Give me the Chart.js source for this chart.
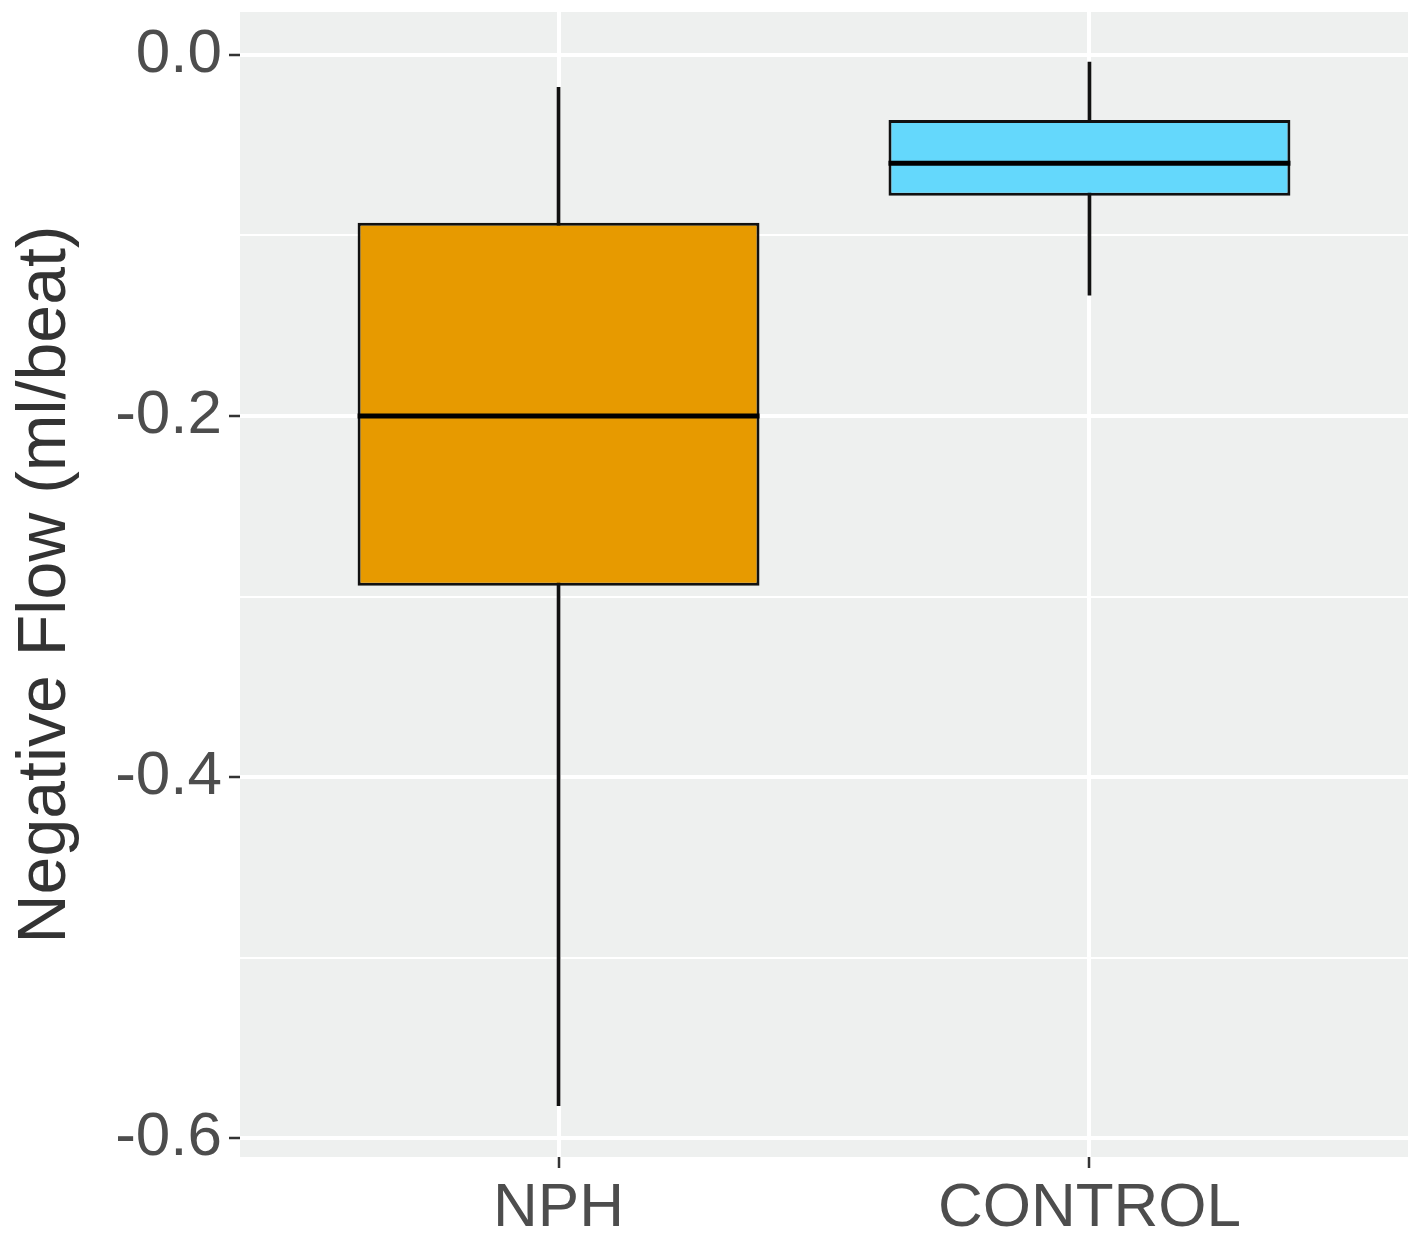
<!DOCTYPE html>
<html>
<head>
<meta charset="utf-8">
<script src="https://cdn.jsdelivr.net/npm/chart.js@4"></script>
<style>
  html, body { margin: 0; padding: 0; background: #fff; }
  #wrap { width: 1422px; height: 1239px; }
</style>
</head>
<body>
<div id="wrap"><canvas id="grafica" width="1422" height="1239"></canvas></div>
<script>
// Datos (boxplot)
const grupos = ['NPH', 'CONTROL'];
const bigoteMin = [-0.582, -0.133];
const cuartil1 = [-0.294, -0.078];
const mediana = [-0.200, -0.060];
const cuartil3 = [-0.093, -0.036];
const bigoteMax = [-0.018, -0.004];
const colores = ['#E79A00', '#64D8FC'];
const ticksY = [0.0, -0.2, -0.4, -0.6];

// posicion de cada grupo en el eje x (1, 2, ...)
const posX = grupos.map((_, i) => i + 1);

function esMayor(v) {
  return ticksY.some(t => Math.abs(t - v) < 1e-6);
}

// Fondo del panel gris
const fondoPanel = {
  id: 'fondoPanel',
  beforeDraw(chart) {
    const { ctx, chartArea: a } = chart;
    ctx.save();
    ctx.fillStyle = '#EEF0EF';
    ctx.fillRect(a.left, a.top, a.right - a.left, a.bottom - a.top);
    ctx.restore();
  }
};

// Lineas de la mediana sobre cada caja
const lineasMediana = {
  id: 'lineasMediana',
  afterDatasetsDraw(chart) {
    const meta = chart.getDatasetMeta(1);
    const y = chart.scales.y;
    const ctx = chart.ctx;
    ctx.save();
    ctx.strokeStyle = '#000';
    ctx.lineWidth = 5;
    meta.data.forEach((bar, i) => {
      const py = y.getPixelForValue(mediana[i]);
      ctx.beginPath();
      ctx.moveTo(bar.x - bar.width / 2, py);
      ctx.lineTo(bar.x + bar.width / 2, py);
      ctx.stroke();
    });
    ctx.restore();
  }
};

new Chart(document.getElementById('grafica').getContext('2d'), {
  type: 'bar',
  data: {
    datasets: [
      {
        label: 'bigotes',
        data: posX.map((x, i) => ({ x: x, y: [bigoteMin[i], bigoteMax[i]] })),
        backgroundColor: '#111',
        barThickness: 3,
        grouped: false,
        order: 2
      },
      {
        label: 'cajas',
        data: posX.map((x, i) => ({ x: x, y: [cuartil1[i], cuartil3[i]] })),
        backgroundColor: colores,
        borderColor: '#111',
        borderWidth: 3,
        borderSkipped: false,
        barPercentage: 0.757,
        categoryPercentage: 1,
        grouped: false,
        order: 1
      }
    ]
  },
  options: {
    responsive: false,
    animation: false,
    layout: { padding: { top: 12, right: 14, left: 8, bottom: 0 } },
    plugins: {
      legend: { display: false },
      tooltip: { enabled: false }
    },
    scales: {
      x: {
        type: 'linear',
        min: 0.4,
        max: 2.6,
        offset: false,
        afterFit(s) { s.height = 82; s.paddingLeft = 0; s.paddingRight = 0; },
        border: { display: false },
        grid: {
          offset: false,
          color: '#FFFFFF',
          lineWidth: 4,
          tickColor: '#333333',
          tickLength: 11,
          tickWidth: 2.5
        },
        ticks: {
          stepSize: 1,
          includeBounds: false,
          autoSkip: false,
          maxRotation: 0,
          padding: 4,
          color: '#4D4D4D',
          font: { family: 'Liberation Sans, Arial, sans-serif', size: 62 },
          callback: v => grupos[Math.round(v) - 1] || ''
        }
      },
      y: {
        min: -0.6105,
        max: 0.0238,
        afterFit(s) { s.width = 232; s.paddingTop = 0; s.paddingBottom = 0; },
        border: { display: false },
        grid: {
          color: '#FFFFFF',
          lineWidth: c => esMayor(c.tick.value) ? 4 : 2,
          tickColor: c => esMayor(c.tick.value) ? '#333333' : 'rgba(0,0,0,0)',
          tickLength: 11,
          tickWidth: 2.5
        },
        ticks: {
          stepSize: 0.1,
          includeBounds: false,
          autoSkip: false,
          padding: 7,
          color: '#4D4D4D',
          font: { family: 'Liberation Sans, Arial, sans-serif', size: 62 },
          callback: v => esMayor(v) ? v.toFixed(1) : ''
        },
        title: {
          display: true,
          text: 'Negative Flow (ml/beat)',
          color: '#333333',
          padding: { top: 4, bottom: 0 },
          font: { family: 'Liberation Sans, Arial, sans-serif', size: 68, lineHeight: 1 }
        }
      }
    }
  },
  plugins: [fondoPanel, lineasMediana]
});
</script>
</body>
</html>
